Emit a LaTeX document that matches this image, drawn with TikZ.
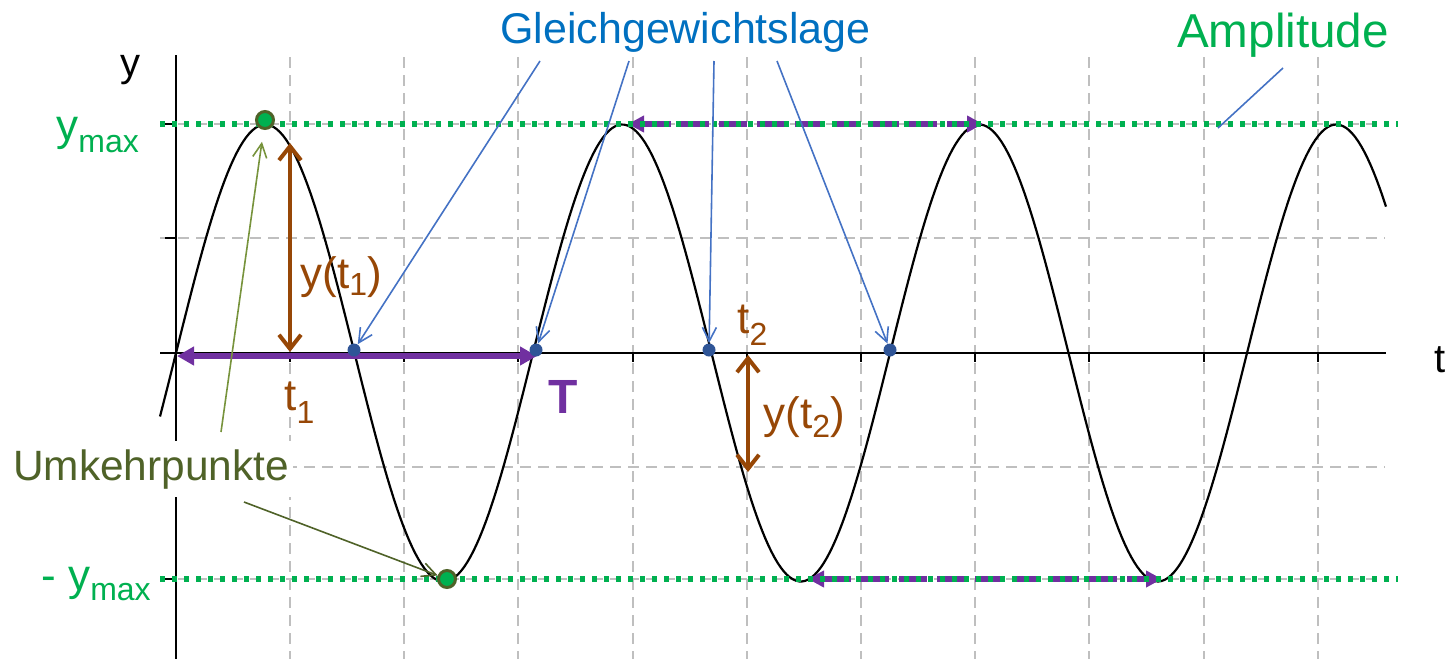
\documentclass[tikz,border=0pt]{standalone}
\usepackage{fontspec}
\setmainfont{Liberation Sans}
\usetikzlibrary{arrows.meta}
\definecolor{cgreen}{RGB}{0,176,80}
\definecolor{cblue}{RGB}{0,112,192}
\definecolor{cline}{RGB}{68,114,196}
\definecolor{cbrown}{RGB}{151,71,6}
\definecolor{cpurple}{RGB}{112,48,160}
\definecolor{colive}{RGB}{79,98,40}
\definecolor{clight}{RGB}{119,147,60}
\definecolor{cdot}{RGB}{47,85,151}
\definecolor{cgrid}{RGB}{191,191,191}
\newcommand{\fs}[1]{\fontsize{#1}{#1}\selectfont}
\newcommand{\lsub}[2]{\raisebox{-#1}{\fs{16}#2}}
\pgfdeclarelayer{bg}
\pgfsetlayers{bg,main}
\begin{document}
\begin{tikzpicture}[x=0.5pt,y=-0.5pt,
 gridline/.style={cgrid, line width=1pt, dash pattern=on 5.5pt off 3.5pt},
 axis/.style={black, line width=1pt},
 ampline/.style={cgreen, line width=2.6pt, dash pattern=on 2.6pt off 3.4pt},
 period/.style={cpurple, line width=3pt, {Triangle[length=8.5pt,width=9pt]}-{Triangle[length=8.5pt,width=9pt]}},
 perioddash/.style={cpurple, line width=3pt, dash pattern=on 14pt off 5pt, {Triangle[length=8pt,width=8pt]}-{Triangle[length=8pt,width=8pt]}},
 yval/.style={cbrown, line width=2pt, {Straight Barb[length=7pt,width=11pt]}-{Straight Barb[length=7pt,width=11pt]}},
 eqcall/.style={cline, line width=0.8pt, -{Straight Barb[length=7pt,width=7pt]}},
 turncall/.style={line width=0.8pt, -{Straight Barb[length=7pt,width=7pt]}},
 zero/.style={circle, fill=cdot, inner sep=0pt, minimum size=6.5pt},
 turn/.style={circle, fill=cgreen, draw=colive, line width=1.5pt, inner sep=0pt, minimum size=8.5pt},
 lbl/.style={inner sep=0pt, anchor=base west},
]
\useasboundingbox (0,0) rectangle (1450,659);

% named points
\coordinate (p0) at (177,356);
\coordinate (p1) at (537,356);
\coordinate (a0) at (628,124);
\coordinate (a1) at (983,124);
\coordinate (b0) at (808,579);
\coordinate (b1) at (1162,579);
\coordinate (y1a) at (290,143);
\coordinate (y1b) at (290,352);
\coordinate (y2a) at (748,355);
\coordinate (y2b) at (748,472);
\coordinate (g1) at (540,61);
\coordinate (g2) at (629,61);
\coordinate (g3) at (714,61);
\coordinate (g4) at (777,61);
\coordinate (am0) at (1283,68);
\coordinate (am1) at (1218,128);
\coordinate (u1) at (221,432);
\coordinate (u2) at (244,502);

\begin{pgfonlayer}{bg}
% grid
\foreach \i in {0,...,9}
  \draw[gridline] ({290+114.2*\i},57) -- ({290+114.2*\i},659);
\foreach \yy in {124,238,467,579}
  \draw[gridline] (160,\yy) -- (1385,\yy);
% axes
\draw[axis] (176,55) -- (176,659);
\draw[axis] (160,353) -- (1386,353);
\foreach \yy in {124,238,467,579}
  \draw[axis] (165,\yy) -- (176,\yy);
\foreach \i in {0,...,9}
  \draw[axis] ({290+114.2*\i},353) -- ({290+114.2*\i},362);
% curve
\draw[line width=1.1pt] plot[domain=160:1386, samples=400] (\x,{353-228.5*sin((\x-176)/357*360)});
% period arrows
\draw[period] (p0) -- (p1);
\draw[perioddash] (a0) -- (a1);
\draw[perioddash] (b0) -- (b1);
% amplitude lines
\draw[ampline] (160,124) -- (1398,124);
\draw[ampline] (160,579) -- (1398,579);
\end{pgfonlayer}

% y values
\draw[yval] (y1a) -- (y1b);
\draw[yval] (y2a) -- (y2b);

% dots
\node[zero] (z1) at (354,350) {};
\node[zero] (z2) at (536,350) {};
\node[zero] (z3) at (709,350) {};
\node[zero] (z4) at (890,350) {};
\node[turn] (tp1) at (265,120) {};
\node[turn] (tp2) at (447,579) {};

% callouts
\draw[eqcall] (g1) -- (z1);
\draw[eqcall] (g2) -- (z2);
\draw[eqcall] (g3) -- (z3);
\draw[eqcall] (g4) -- (z4);
\draw[cline, line width=0.8pt] (am0) -- (am1);
\draw[turncall, clight, shorten >=6pt] (u1) -- (tp1);
\draw[turncall, colive] (u2) -- (tp2);

% labels
\node[lbl, font=\fs{20}] (ylab) at (120,76) {y};
\node[lbl, font=\fs{20}] (tlab) at (1434,372) {t};
\node[lbl, text=cgreen, font=\fs{22}] (ymaxl) at (56,140) {y\lsub{6pt}{max}};
\node[lbl, text=cgreen, font=\fs{22}] (yminl) at (41,590) {- y\lsub{5pt}{max}};
\node[text=cblue, font=\fs{21.5}, inner sep=0pt, anchor=base] (gl) at (685.5,43) {Gleichgewichtslage};
\node[text=cgreen, font=\fs{23.8}, inner sep=0pt, anchor=base] (amp) at (1283,47) {Amplitude};
\node[text=colive, font=\fs{21.2}, fill=white, inner xsep=2pt, inner ysep=4pt, anchor=base] (umk) at (151,480) {Umkehrpunkte};
\node[lbl, text=cpurple, font=\fs{24}\bfseries] (T) at (548,413) {T};
\node[lbl, text=cbrown, font=\fs{22}] (t1) at (284,410) {t\lsub{6.5pt}{1}};
\node[lbl, text=cbrown, font=\fs{22}] (yt1) at (300,288) {y(t\lsub{3.5pt}{1})};
\node[lbl, text=cbrown, font=\fs{22}] (t2) at (737,333) {t\lsub{6pt}{2}};
\node[lbl, text=cbrown, font=\fs{22}] (yt2) at (763,428) {y(t\lsub{4.5pt}{2})};
\end{tikzpicture}
\end{document}
